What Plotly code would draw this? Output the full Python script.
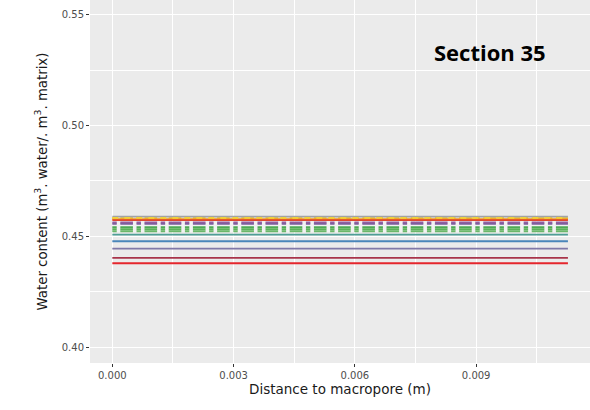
import plotly.graph_objects as go

# ---- data ----
x_ends = [0.0, 0.01127]
x_ticks = [0.000, 0.003, 0.006, 0.009]
x_ticklabels = ["0.000", "0.003", "0.006", "0.009"]
y_ticks = [0.40, 0.45, 0.50, 0.55]
y_ticklabels = ["0.40", "0.45", "0.50", "0.55"]

# light under-band values (shows through dash gaps)
band_values = [0.45580, 0.45470, 0.45360, 0.45260]
band_colors = ["#F2F2F2", "#F2F2F2", "#F2F2F2", "#F2F2F2"]

# water content series (constant along distance)
solid_values = [0.45885, 0.45768, 0.45723, 0.45072, 0.44774, 0.44440, 0.44020, 0.43780]
solid_colors = ["#A3A3A3", "#F39A1E", "#E0462E", "#4E9E96", "#4A86BA", "#8079A8", "#A8344A", "#E5262D"]

dashed_values = [0.45827, 0.45623, 0.45560, 0.45407, 0.45316, 0.45226]
dashed_colors = ["#EFD23C", "#9A5FA2", "#7E5E9C", "#4FAA55", "#5AB25A", "#6BB86A"]

fig = go.Figure()

for v, c in zip(band_values, band_colors):
    fig.add_trace(go.Scatter(x=x_ends, y=[v, v], mode="lines",
                             line=dict(color=c, width=3.2), showlegend=False, hoverinfo="skip"))

for v, c in zip(dashed_values, dashed_colors):
    fig.add_trace(go.Scatter(x=x_ends, y=[v, v], mode="lines",
                             line=dict(color=c, width=2.0, dash="4.4px,3.6px,12.6px,3.6px"),
                             showlegend=False, hoverinfo="skip"))

for v, c in zip(solid_values, solid_colors):
    fig.add_trace(go.Scatter(x=x_ends, y=[v, v], mode="lines",
                             line=dict(color=c, width=1.8), showlegend=False, hoverinfo="skip"))

# yellow dashes over the gray top line
fig.add_trace(go.Scatter(x=x_ends, y=[dashed_values[0], dashed_values[0]], mode="lines",
                         line=dict(color=dashed_colors[0], width=1.6, dash="6px,6px"),
                         showlegend=False, hoverinfo="skip"))

axis_common = dict(
    showgrid=True, gridcolor="white", gridwidth=1.1,
    zeroline=False, showline=False, automargin=False,
    ticks="outside", ticklen=3, tickcolor="#333333", tickwidth=1,
    tickfont=dict(family="DejaVu Sans", size=10, color="#4D4D4D"),
    minor=dict(showgrid=True, gridcolor="white", gridwidth=0.5),
)

fig.update_xaxes(
    range=[-0.000552, 0.011816], tickvals=x_ticks, ticktext=x_ticklabels,
    title=dict(text="Distance to macropore (m)", font=dict(family="DejaVu Sans", size=13.5, color="#1A1A1A"), standoff=2),
    **axis_common,
)
fig.update_xaxes(minor=dict(tickvals=[0.0015, 0.0045, 0.0075, 0.0105], ticks=""))
fig.update_yaxes(
    range=[0.3928, 0.5566], tickvals=y_ticks, ticktext=y_ticklabels,
    title=dict(text="Water content (m<sup>3</sup>. water/. m<sup>3</sup>. matrix)",
               font=dict(family="DejaVu Sans", size=13.3, color="#1A1A1A"), standoff=11),
    **axis_common,
)
fig.update_yaxes(minor=dict(tickvals=[0.425, 0.475, 0.525], ticks=""))

fig.add_annotation(text="<b>Section 35</b>", xref="x", yref="y",
                   x=0.00933, y=0.5332, showarrow=False,
                   font=dict(family="Open Sans", size=22, color="black"))

fig.update_layout(
    width=590, height=410,
    margin=dict(l=90, r=0, t=0, b=47, pad=0),
    plot_bgcolor="#EBEBEB", paper_bgcolor="white",
)

fig.write_html("out.html", config={"displayModeBar": False},
               post_script="document.body.style.margin='0';")
